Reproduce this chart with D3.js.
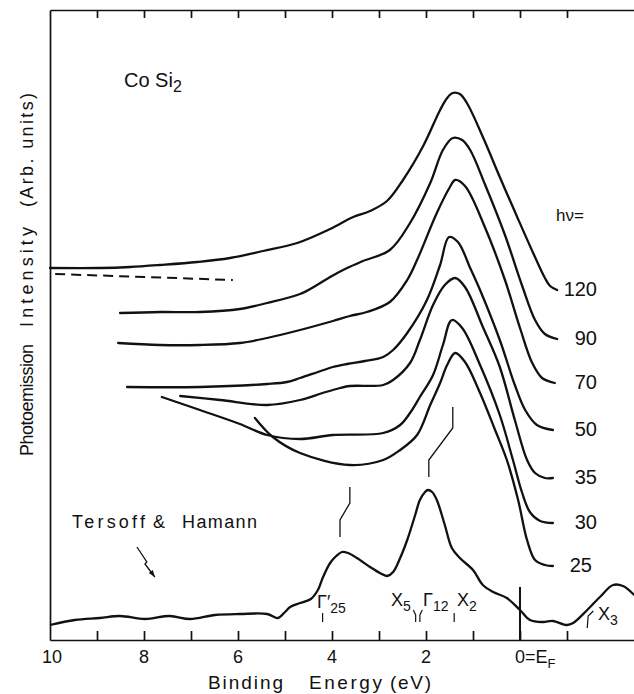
<!DOCTYPE html>
<html><head><meta charset="utf-8">
<script src="https://cdn.jsdelivr.net/npm/d3@7"></script>
<style>
body{margin:0;background:#fff}
svg{display:block}
text{font-family:"Liberation Sans",Arial,sans-serif;fill:#111}
</style>
</head><body>
<svg id="c" width="634" height="694"></svg>
<script>
// ---- data (binding energy eV, intensity arb. units) ----
const photonEnergies = [120, 90, 70, 50, 35, 30, 25];
const spec120 = [[10.00,37.2],[8.94,37.2],[8.30,37.3],[7.66,37.5],[6.87,37.8],[6.17,38.2],[5.47,38.9],[4.74,39.7],[4.04,41.1],[3.55,42.3],[3.19,42.9],[2.83,43.9],[2.49,46.0],[2.06,49.4],[1.70,53.0],[1.55,54.2],[1.43,54.7],[1.28,54.6],[1.13,53.7],[0.79,50.3],[0.43,46.3],[0.06,42.3],[-0.28,38.7],[-0.53,36.2],[-0.64,35.4],[-0.79,35.0]];
const spec90 = [[8.51,32.7],[7.66,32.8],[6.81,32.8],[5.96,33.1],[5.38,33.7],[4.68,34.6],[4.32,35.5],[4.04,36.3],[3.68,37.2],[3.34,37.9],[2.77,39.0],[2.34,41.7],[1.91,45.7],[1.64,49.0],[1.43,50.2],[1.23,50.0],[1.06,49.0],[0.74,45.5],[0.32,40.5],[-0.04,35.5],[-0.32,32.0],[-0.53,30.6],[-0.79,30.1]];
const spec70 = [[8.55,29.7],[7.66,29.5],[6.81,29.5],[5.96,29.7],[5.38,30.2],[4.68,31.0],[3.98,31.9],[3.62,32.4],[3.26,32.8],[2.77,33.8],[2.40,36.0],[2.19,38.0],[1.77,42.7],[1.49,45.3],[1.38,46.0],[1.17,45.4],[0.74,41.2],[0.32,36.0],[0.00,31.2],[-0.26,27.7],[-0.47,26.2],[-0.74,25.7]];
const spec50 = [[8.36,25.3],[6.81,25.3],[5.38,25.6],[4.96,25.8],[4.68,26.2],[4.30,26.8],[3.98,27.3],[3.68,27.6],[3.30,27.9],[2.91,28.3],[2.70,29.0],[2.40,30.7],[1.98,34.0],[1.70,37.5],[1.51,40.3],[1.32,39.8],[1.06,37.2],[0.85,35.0],[0.43,30.0],[0.11,25.5],[-0.11,23.0],[-0.36,21.5],[-0.70,21.0]];
const spec35 = [[7.23,24.4],[6.38,24.0],[5.38,23.5],[4.68,24.0],[4.20,24.7],[3.83,25.2],[3.62,25.4],[2.91,25.5],[2.70,26.0],[2.34,27.7],[2.13,30.0],[1.85,33.5],[1.60,35.5],[1.38,36.2],[1.17,35.3],[0.79,31.3],[0.43,27.3],[0.11,22.0],[-0.15,18.0],[-0.32,16.7],[-0.53,16.2],[-0.70,16.2]];
const spec30 = [[7.62,24.3],[6.81,23.0],[5.96,21.6],[5.38,20.5],[4.68,20.1],[3.98,20.5],[2.91,20.7],[2.55,21.5],[2.34,22.7],[2.13,24.3],[1.85,26.5],[1.64,29.5],[1.45,32.0],[1.23,31.2],[0.85,27.5],[0.43,22.5],[0.15,18.0],[-0.04,14.8],[-0.21,12.8],[-0.43,11.9],[-0.70,11.7]];
const spec25 = [[5.64,22.2],[5.26,20.3],[4.68,18.7],[3.62,17.5],[2.91,18.0],[2.55,19.0],[2.19,20.5],[1.91,23.5],[1.70,25.7],[1.55,27.5],[1.38,28.7],[1.17,27.8],[0.85,24.7],[0.53,21.0],[0.28,18.0],[0.04,14.0],[-0.15,10.0],[-0.32,8.0],[-0.53,7.5],[-0.70,7.4]];
const theory = [[10.00,1.5],[9.47,2.0],[8.94,2.2],[8.51,2.4],[7.98,2.1],[7.45,2.4],[7.02,2.1],[6.49,2.5],[5.96,2.6],[5.38,2.6],[5.15,2.2],[5.00,2.8],[4.89,3.3],[4.68,3.7],[4.45,4.1],[4.30,5.0],[4.19,6.3],[4.04,7.7],[3.91,8.4],[3.79,8.8],[3.66,8.7],[3.47,8.2],[3.19,7.3],[2.98,6.7],[2.83,6.4],[2.70,6.8],[2.55,8.2],[2.40,10.0],[2.23,12.5],[2.13,14.0],[2.02,14.8],[1.96,15.0],[1.87,14.8],[1.77,14.0],[1.60,11.5],[1.45,9.2],[1.28,8.2],[1.00,7.0],[0.79,5.5],[0.57,4.8],[0.28,4.2],[0.00,3.0],[-0.21,2.0],[-0.49,1.8],[-0.70,1.9],[-1.00,1.5],[-1.13,1.7],[-1.43,3.0],[-1.70,4.3],[-1.98,5.5],[-2.19,5.4],[-2.43,4.5]];
const dashedBaseline = [[9.89,36.6],[6.11,36.0]];
const minorTicks = [9,8,7,6,5,4,3,2,1,0,-1];
const tickLabels = [10,8,6,4,2];
const bandPoints = [["Γ′25",4.2],["X5",2.22],["Γ12",2.1],["X2",1.4],["X3",-1.5]];

const spectra = [spec120, spec90, spec70, spec50, spec35, spec30, spec25];

// ---- chart ----
const svg = d3.select("#c");
const x = d3.scaleLinear().domain([10, -2.4255]).range([50, 634]);
const y = d3.scaleLinear().domain([0, 63]).range([640, 10]);

const line = d3.line().x(d => x(d[0])).y(d => y(d[1])).curve(d3.curveCatmullRom.alpha(0.5));
const straight = d3.line().x(d => x(d[0])).y(d => y(d[1]));

// axes
svg.append("g").attr("transform", `translate(0,${y(0)})`)
  .call(d3.axisBottom(x).tickValues(minorTicks).tickSizeInner(-9).tickSizeOuter(0).tickFormat(""));
svg.append("g").attr("transform", `translate(0,${y(63)})`)
  .call(d3.axisTop(x).tickValues(minorTicks).tickSizeInner(-8).tickSizeOuter(0).tickFormat(""));
svg.append("g").attr("transform", `translate(${x(10)},0)`)
  .call(d3.axisLeft(y).tickValues([]).tickSizeOuter(0));
svg.selectAll(".domain, .tick line").attr("stroke", "#111").attr("stroke-width", 1.7);

// tick labels
svg.append("g").selectAll("text").data(tickLabels).join("text")
  .attr("x", d => x(d) + (d === 10 ? 2 : 0)).attr("y", 663)
  .attr("text-anchor", "middle").attr("font-size", 18).text(d => d);
const ef = svg.append("text").attr("x", x(0) - 5).attr("y", 663).attr("font-size", 18);
ef.append("tspan").text("0=E");
ef.append("tspan").attr("font-size", 13).attr("dy", 5).text("F");

// x-axis title
[["Binding", 208, 75], ["Energy", 309, 73], ["(eV)", 390, 41]].forEach(([t, px, w]) => {
  svg.append("text").attr("x", px).attr("y", 689).attr("font-size", 19)
    .attr("textLength", w).attr("lengthAdjust", "spacing").text(t);
});

// y-axis title (rotated)
[["Photoemission", 400, 112], ["Intensity", 277, 100], ["(Arb. units)", 150, 114]].forEach(([t, cy, w]) => {
  svg.append("text").attr("transform", `translate(33,${cy}) rotate(-90)`)
    .attr("text-anchor", "middle").attr("font-size", 18)
    .attr("textLength", w).attr("lengthAdjust", "spacing").text(t);
});

// spectra
svg.append("g").selectAll("path").data(spectra).join("path")
  .attr("d", line).attr("fill", "none").attr("stroke", "#111").attr("stroke-width", 2.3)
  .attr("stroke-linejoin", "round").attr("stroke-linecap", "round");

// photon energy labels
svg.append("g").selectAll("text").data(photonEnergies).join("text")
  .attr("x", (d, i) => i === 6 ? 592 : 597)
  .attr("y", (d, i) => y(spectra[i][spectra[i].length - 1][1]) + 6)
  .attr("text-anchor", "end").attr("font-size", 20).text(d => d);
svg.append("text").attr("x", 556).attr("y", 221).attr("font-size", 17).text("hν=");

// dashed baseline
svg.append("path").attr("d", straight(dashedBaseline)).attr("fill", "none")
  .attr("stroke", "#111").attr("stroke-width", 2).attr("stroke-dasharray", "10,6");

// theory curve
svg.append("path").attr("d", line(theory)).attr("fill", "none")
  .attr("stroke", "#111").attr("stroke-width", 2.3).attr("stroke-linejoin", "round");

// E_F line
svg.append("path").attr("d", straight([[0, 5.3], [0, 0]])).attr("stroke", "#111").attr("stroke-width", 2);

// peak correspondence markers
[[[3.62,15.3],[3.62,13.7],[3.83,12.0],[3.83,10.3]],
 [[1.43,23.3],[1.43,21.2],[1.94,18.0],[1.94,16.3]]].forEach(m => {
  svg.append("path").attr("d", straight(m)).attr("fill", "none").attr("stroke", "#111").attr("stroke-width", 1.3);
});

// band point ticks
const bandTickShapes = {
  "Γ′25": [[4.2,2.7],[4.2,1.8]],
  "X5": [[2.27,3.0],[2.22,2.5],[2.22,1.8]],
  "Γ12": [[2.08,3.0],[2.13,2.5],[2.13,1.8]],
  "X2": [[1.4,2.7],[1.4,1.8]],
  "X3": [[-1.43,1.2],[-1.45,2.4],[-1.56,2.9]]
};
bandPoints.forEach(([n]) => {
  svg.append("path").attr("d", straight(bandTickShapes[n])).attr("fill", "none")
    .attr("stroke", "#111").attr("stroke-width", 1.2);
});
function band(main, sub, px, py) {
  const t = svg.append("text").attr("x", px).attr("y", py).attr("font-size", 18);
  t.append("tspan").text(main);
  t.append("tspan").attr("font-size", 14).attr("dy", 5).text(sub);
}
band("Γ′", "25", 317, 608);
band("X", "5", 391, 606);
band("Γ", "12", 423, 606);
band("X", "2", 457, 606);
band("X", "3", 598, 620);

// sample label
const co = svg.append("text").attr("x", 124).attr("y", 87).attr("font-size", 20);
co.append("tspan").text("Co Si");
co.append("tspan").attr("font-size", 16).attr("dy", 5).text("2");

// Tersoff & Hamann
[["Tersoff", 72, 73], ["&", 153, 13], ["Hamann", 182, 75]].forEach(([t, px, w]) => {
  svg.append("text").attr("x", px).attr("y", 528).attr("font-size", 18)
    .attr("textLength", w).attr("lengthAdjust", "spacing").text(t);
});
// lightning arrow
const arrowPts = [[8.15,9.3],[7.94,7.8],[7.98,7.6],[7.77,6.3]];
svg.append("path").attr("d", straight(arrowPts)).attr("fill", "none").attr("stroke", "#111").attr("stroke-width", 1.3);
const tip = arrowPts[3];
const tx = x(tip[0]), ty = y(tip[1]);
svg.append("path").attr("d", `M${tx},${ty} L${tx-6},${ty-4} L${tx-2},${ty-7} Z`).attr("fill", "#111");
</script>
</body></html>
